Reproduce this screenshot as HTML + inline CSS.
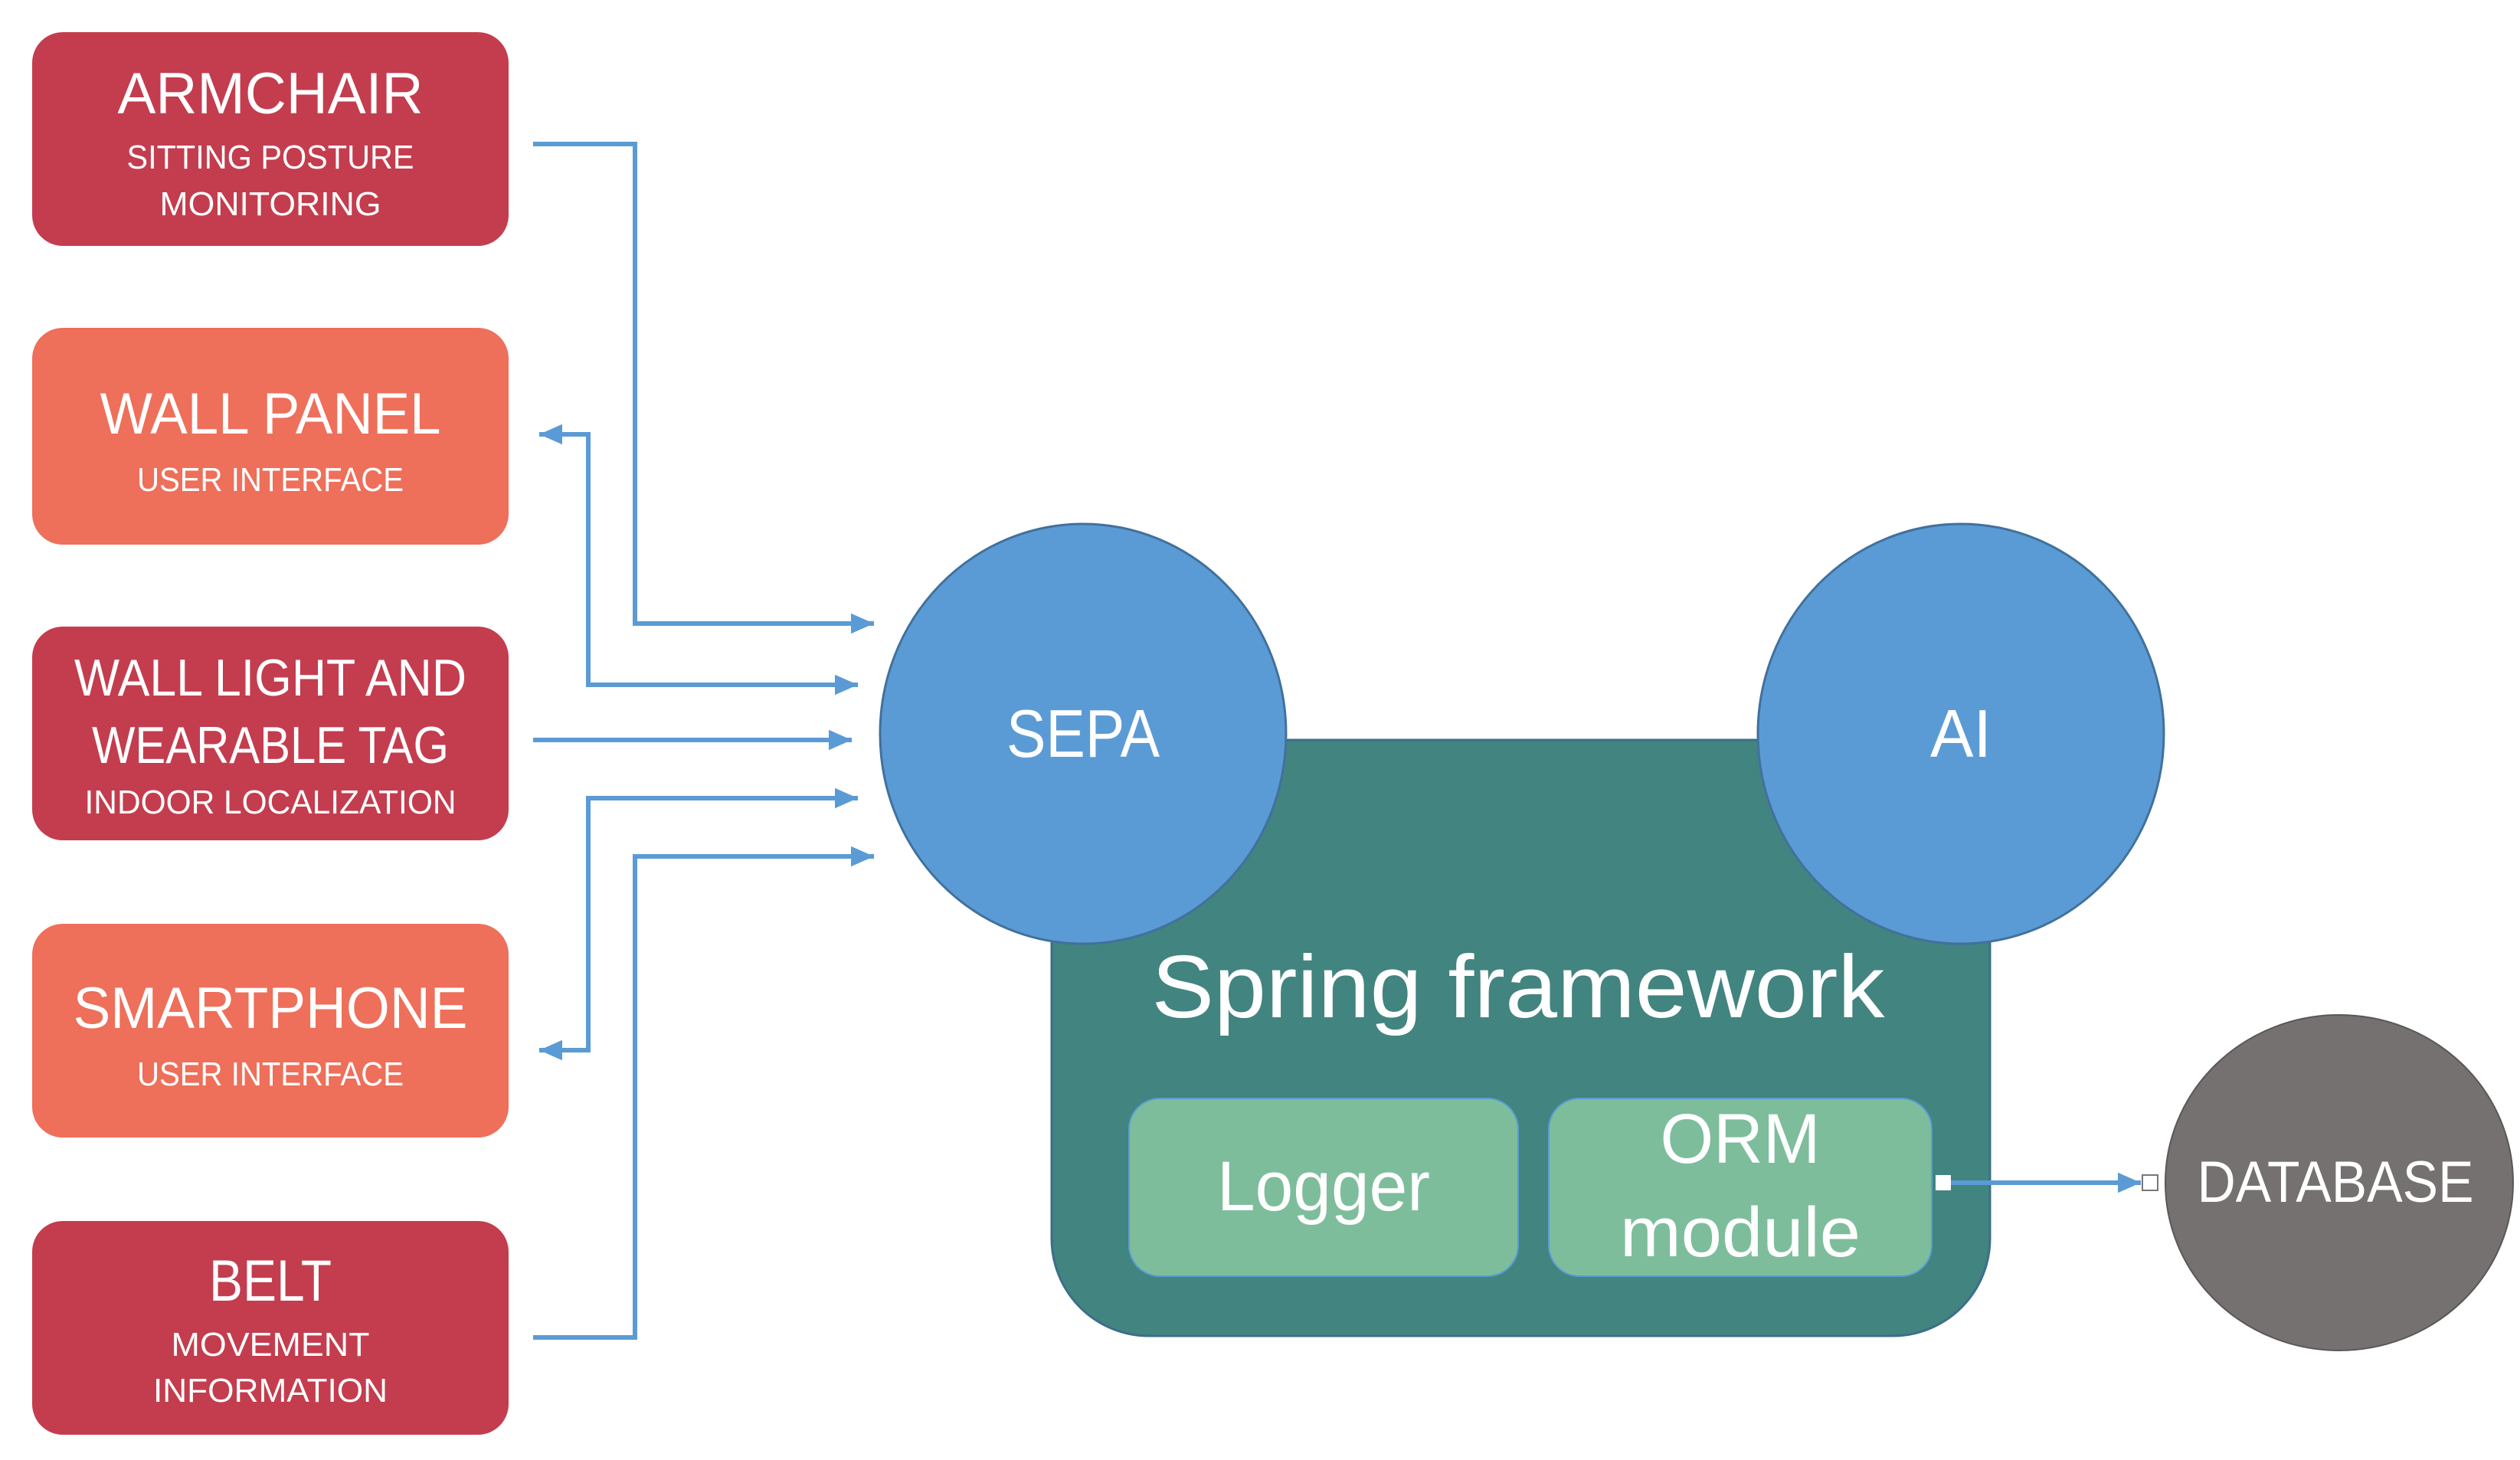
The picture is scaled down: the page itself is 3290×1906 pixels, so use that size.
<!DOCTYPE html>
<html><head><meta charset="utf-8"><style>
html,body{margin:0;padding:0;background:#fff;}
svg{display:block;}
text{font-family:"Liberation Sans",sans-serif;fill:#fff;text-anchor:middle;}
</style></head><body>
<svg width="3290" height="1906" viewBox="0 0 3290 1906" xmlns="http://www.w3.org/2000/svg">
<defs>
<marker id="ar" markerWidth="6" markerHeight="6" refX="5" refY="3" orient="auto-start-reverse" markerUnits="strokeWidth">
<path d="M0,0.8 L5,3 L0,5.2 Z" fill="#5b9bd5"/></marker>
</defs>
<!-- left boxes -->
<rect x="42" y="42" width="622" height="279" rx="40" fill="#c33d4e"/>
<rect x="42" y="428" width="622" height="283" rx="40" fill="#ee6f5a"/>
<rect x="42" y="818" width="622" height="279" rx="40" fill="#c33d4e"/>
<rect x="42" y="1206" width="622" height="279" rx="40" fill="#ee6f5a"/>
<rect x="42" y="1594" width="622" height="279" rx="40" fill="#c33d4e"/>

<text x="353" y="148" font-size="76" textLength="399" lengthAdjust="spacingAndGlyphs">ARMCHAIR</text>
<text x="353" y="220" font-size="44" textLength="375" lengthAdjust="spacingAndGlyphs">SITTING POSTURE</text>
<text x="353" y="281" font-size="44" textLength="289" lengthAdjust="spacingAndGlyphs">MONITORING</text>

<text x="353" y="566" font-size="76" textLength="445" lengthAdjust="spacingAndGlyphs">WALL PANEL</text>
<text x="353" y="641" font-size="44" textLength="348" lengthAdjust="spacingAndGlyphs">USER INTERFACE</text>

<text x="353" y="908" font-size="68" textLength="512" lengthAdjust="spacingAndGlyphs">WALL LIGHT AND</text>
<text x="353" y="996" font-size="68" textLength="466" lengthAdjust="spacingAndGlyphs">WEARABLE TAG</text>
<text x="353" y="1062" font-size="44" textLength="485" lengthAdjust="spacingAndGlyphs">INDOOR LOCALIZATION</text>

<text x="353" y="1342" font-size="76" textLength="515" lengthAdjust="spacingAndGlyphs">SMARTPHONE</text>
<text x="353" y="1417" font-size="44" textLength="348" lengthAdjust="spacingAndGlyphs">USER INTERFACE</text>

<text x="353" y="1698" font-size="76" textLength="160" lengthAdjust="spacingAndGlyphs">BELT</text>
<text x="353" y="1770" font-size="44" textLength="259" lengthAdjust="spacingAndGlyphs">MOVEMENT</text>
<text x="353" y="1830" font-size="44" textLength="306" lengthAdjust="spacingAndGlyphs">INFORMATION</text>

<!-- connectors -->
<g fill="none" stroke="#5b9bd5" stroke-width="6">
<polyline points="696,188 829,188 829,814 1141,814" marker-end="url(#ar)"/>
<polyline points="704,567 768,567 768,894 1120,894" marker-start="url(#ar)" marker-end="url(#ar)"/>
<polyline points="696,966 1112,966" marker-end="url(#ar)"/>
<polyline points="704,1371 768,1371 768,1042 1120,1042" marker-start="url(#ar)" marker-end="url(#ar)"/>
<polyline points="696,1746 829,1746 829,1118 1141,1118" marker-end="url(#ar)"/>
</g>

<!-- spring box -->
<path d="M1373,966 H2598 V1617 A127,127 0 0 1 2471,1744 H1500 A127,127 0 0 1 1373,1617 Z" fill="#42847f" stroke="#3b6f8a" stroke-width="3"/>
<ellipse cx="1414" cy="958" rx="265" ry="274" fill="#5b9bd5" stroke="#41719c" stroke-width="3"/>
<ellipse cx="2560" cy="958" rx="265" ry="274" fill="#5b9bd5" stroke="#41719c" stroke-width="3"/>
<text x="1414" y="988" font-size="88" textLength="200" lengthAdjust="spacingAndGlyphs">SEPA</text>
<text x="2560" y="988" font-size="88" textLength="80" lengthAdjust="spacingAndGlyphs">AI</text>
<text x="1982" y="1328" font-size="116" textLength="957" lengthAdjust="spacingAndGlyphs">Spring framework</text>

<rect x="1474" y="1434" width="508" height="232" rx="40" fill="#7dbd9c" stroke="#5b9bd5" stroke-width="2"/>
<rect x="2022" y="1434" width="500" height="232" rx="40" fill="#7dbd9c" stroke="#5b9bd5" stroke-width="2"/>
<text x="1728" y="1580" font-size="92" textLength="278" lengthAdjust="spacingAndGlyphs">Logger</text>
<text x="2272" y="1518" font-size="92" textLength="209" lengthAdjust="spacingAndGlyphs">ORM</text>
<text x="2272" y="1640" font-size="92" textLength="314" lengthAdjust="spacingAndGlyphs">module</text>

<ellipse cx="3054" cy="1544" rx="227" ry="219" fill="#767171" stroke="#5a5757" stroke-width="2"/>
<text x="3049" y="1569" font-size="76" textLength="361" lengthAdjust="spacingAndGlyphs">DATABASE</text>

<line x1="2545" y1="1544" x2="2795" y2="1544" stroke="#5b9bd5" stroke-width="6" marker-end="url(#ar)"/>
<rect x="2527" y="1534" width="20" height="20" fill="#fff"/>
<rect x="2797" y="1534" width="20" height="20" fill="#fff" stroke="#777" stroke-width="2"/>
</svg>
</body></html>
